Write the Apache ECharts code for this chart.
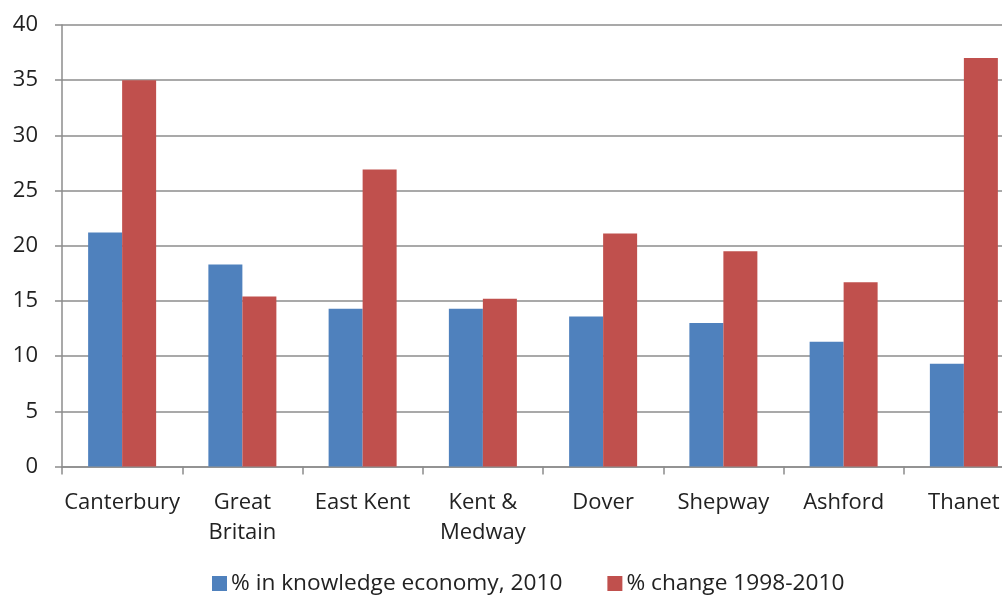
<!DOCTYPE html>
<html><head><meta charset="utf-8">
<script src="https://cdn.jsdelivr.net/npm/echarts@6/dist/echarts.min.js"></script>
<style>html,body{margin:0;padding:0;background:#fff;overflow:hidden;width:1002px;height:597px}#c{width:1024px;height:597px}</style>
</head><body><div id="c"></div>
<script>
const categories = ['Canterbury', 'Great\nBritain', 'East Kent', 'Kent &\nMedway', 'Dover', 'Shepway', 'Ashford', 'Thanet'];
const knowledge2010 = [21.2, 18.3, 14.3, 14.3, 13.6, 13.0, 11.3, 9.3];
const change19982010 = [35.0, 15.4, 26.9, 15.2, 21.1, 19.5, 16.7, 37.0];
const seriesNames = ['% in knowledge economy, 2010', '% change 1998-2010'];
const yTicks = {min: 0, max: 40, interval: 5};

const font = '"Open Sans", Lato, sans-serif';
const chart = echarts.init(document.getElementById('c'));
chart.setOption({
  animation: false,
  textStyle: {fontFamily: font},
  color: ['#4F81BD', '#C0504D'],
  grid: {left: 62, top: 25, right: 0, bottom: 130.5, containLabel: false},
  legend: {
    bottom: -3, left: 207, itemWidth: 15, itemHeight: 15, itemGap: 45,
    icon: 'rect',
    textStyle: {fontSize: 22.7, color: '#222', fontFamily: font, padding: [0, 0, 0, -1]},
    data: seriesNames
  },
  xAxis: {
    type: 'category', data: categories,
    axisLine: {lineStyle: {color: '#8c8c8c', width: 1.5}},
    axisTick: {show: true, length: 8, lineStyle: {color: '#8c8c8c', width: 1.5}},
    axisLabel: {fontSize: 22, color: '#222', margin: 21, lineHeight: 30, interval: 0, fontFamily: font}
  },
  yAxis: {
    type: 'value', min: yTicks.min, max: yTicks.max, interval: yTicks.interval,
    axisLine: {show: true, lineStyle: {color: '#8c8c8c', width: 1.5}},
    axisTick: {show: true, length: 7, lineStyle: {color: '#8c8c8c', width: 1.5}},
    splitLine: {lineStyle: {color: '#8c8c8c', width: 1.5}},
    axisLabel: {fontSize: 22, color: '#222', margin: 24, fontFamily: font}
  },
  series: [
    {name: seriesNames[0], type: 'bar', data: knowledge2010, barWidth: 34, barGap: '0%'},
    {name: seriesNames[1], type: 'bar', data: change19982010, barWidth: 34, barGap: '0%'}
  ]
});
</script></body></html>
